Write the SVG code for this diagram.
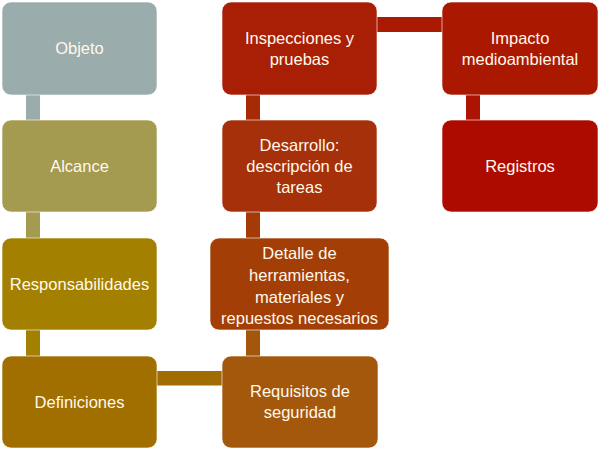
<svg xmlns="http://www.w3.org/2000/svg" width="600" height="451" viewBox="0 0 600 451">
<style>
.box{stroke:#ffffff;stroke-opacity:0.6;stroke-width:1}
.t{font-family:"Liberation Sans",Arial,sans-serif;font-size:16.5px;fill:#fff9ec;text-anchor:middle}
</style>
<rect width="600" height="451" fill="#ffffff"/>
<g id="connectors">
<rect x="26" y="95" width="14" height="25" fill="#9aacab"/>
<rect x="26" y="212" width="14" height="26" fill="#a49a50"/>
<rect x="26" y="330" width="14" height="26" fill="#a38000"/>
<rect x="157" y="371" width="65" height="14.5" fill="#a16d02"/>
<rect x="246" y="330" width="14" height="26" fill="#a4560a"/>
<rect x="246" y="212" width="14" height="26" fill="#a43a06"/>
<rect x="246" y="95" width="14" height="25" fill="#a62a06"/>
<rect x="377" y="17" width="65" height="15" fill="#aa1a02"/>
<rect x="466" y="95" width="14" height="25" fill="#ad1300"/>
</g>
<g id="objeto">
<rect class="box" x="2" y="2" width="155" height="93" rx="9" fill="#9aacab"/>
<text class="t" x="79.5" y="54">Objeto</text>
</g>
<g id="alcance">
<rect class="box" x="2" y="120" width="155" height="92" rx="9" fill="#a49a50"/>
<text class="t" x="79.5" y="172">Alcance</text>
</g>
<g id="responsabilidades">
<rect class="box" x="2" y="238" width="155" height="92" rx="9" fill="#a38000"/>
<text class="t" x="79.5" y="290">Responsabilidades</text>
</g>
<g id="definiciones">
<rect class="box" x="2" y="356" width="155" height="92" rx="9" fill="#a16f00"/>
<text class="t" x="79.5" y="408">Definiciones</text>
</g>
<g id="requisitos">
<rect class="box" x="222" y="356" width="156" height="92" rx="9" fill="#a4580c"/>
<text class="t" x="300" y="397">Requisitos de</text>
<text class="t" x="300" y="418">seguridad</text>
</g>
<g id="detalle">
<rect class="box" x="210" y="238" width="179" height="92" rx="9" fill="#a33f06"/>
<text class="t" x="299.5" y="259">Detalle de</text>
<text class="t" x="299.5" y="281">herramientas,</text>
<text class="t" x="299.5" y="302.5">materiales y</text>
<text class="t" x="299.5" y="324">repuestos necesarios</text>
</g>
<g id="desarrollo">
<rect class="box" x="222" y="120" width="155" height="92" rx="9" fill="#a5300a"/>
<text class="t" x="299.5" y="151">Desarrollo:</text>
<text class="t" x="299.5" y="172">descripción de</text>
<text class="t" x="299.5" y="193">tareas</text>
</g>
<g id="inspecciones">
<rect class="box" x="222" y="2" width="155" height="93" rx="9" fill="#a81f06"/>
<text class="t" x="299.5" y="44">Inspecciones y</text>
<text class="t" x="299.5" y="65">pruebas</text>
</g>
<g id="impacto">
<rect class="box" x="442" y="2" width="156" height="93" rx="9" fill="#ab1800"/>
<text class="t" x="520" y="44">Impacto</text>
<text class="t" x="520" y="65">medioambiental</text>
</g>
<g id="registros">
<rect class="box" x="442" y="120" width="156" height="92" rx="9" fill="#ae0b00"/>
<text class="t" x="520" y="172">Registros</text>
</g>
</svg>
